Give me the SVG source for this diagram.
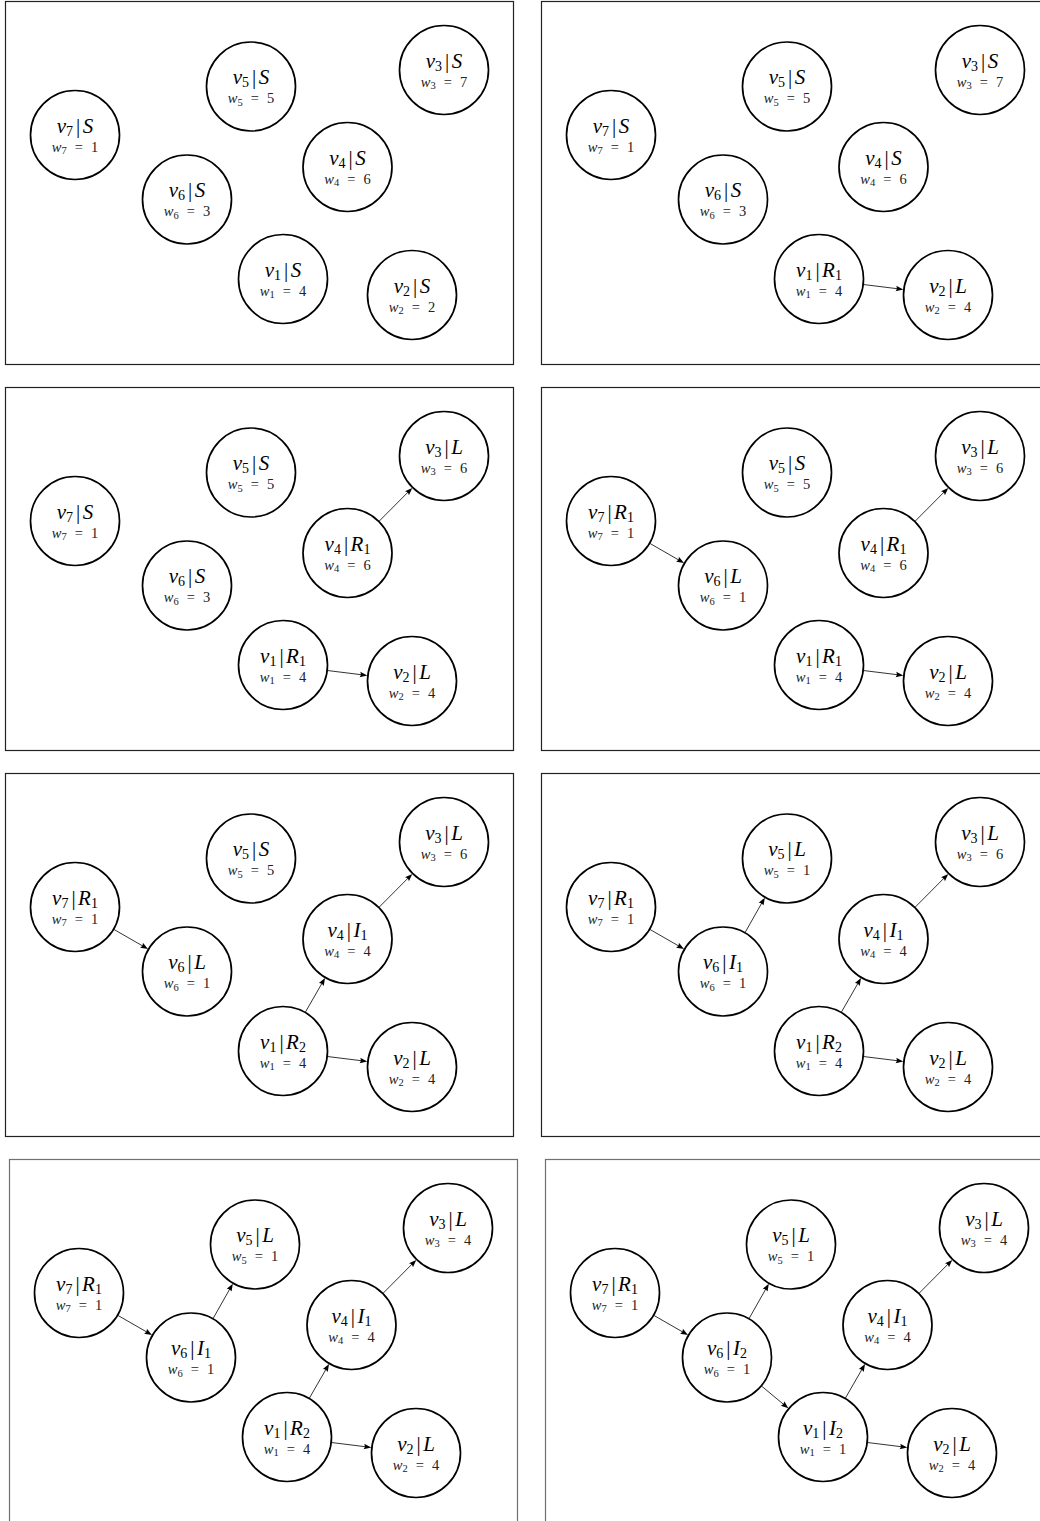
<svg xmlns="http://www.w3.org/2000/svg" width="1040" height="1521" viewBox="0 0 1040 1521">
<style>
.bg{fill:#fff}
.frame{fill:none;stroke:#222;stroke-width:1.2}
.frame4{fill:none;stroke:#707070;stroke-width:1.2}
.node circle{fill:#fff;stroke:#000;stroke-width:1.7}
.a{font-family:"Liberation Serif","Times New Roman",serif;font-size:21px;text-anchor:middle;fill:#000}
.b{font-family:"Liberation Serif","Times New Roman",serif;font-size:14.5px;text-anchor:middle;fill:#222}
.i{font-style:italic}
.s{font-size:14px}
.t{font-size:10.5px}
.edges line{stroke:#000;stroke-width:0.8;marker-end:url(#arr)}
</style>
<defs>
<marker id="arr" markerUnits="userSpaceOnUse" viewBox="-9 -5 12 10" markerWidth="12" markerHeight="10" refX="-3" refY="0" orient="auto">
<path d="M0,0 L-7.5,-2.8 Q-5.6,0 -7.5,2.8 Z" fill="#000"/>
</marker>
</defs>
<rect class="bg" x="0" y="0" width="1040" height="1521"/>

<!-- Panel 1 -->
<g id="panel1" transform="translate(0,0)">
<rect class="frame" x="5.5" y="1.5" width="508" height="363"/>
<g id="p1-edges" class="edges"></g>
<g id="p1-v1" class="node" transform="translate(283,279)"><circle r="44.5"/><text class="a" y="-2.5"><tspan class="i">v</tspan><tspan class="s" dy="3">1</tspan><tspan dy="-3" dx="3">|</tspan><tspan class="i" dx="2.5">S</tspan></text><text class="b" y="16.5"><tspan class="i">w</tspan><tspan class="t" dy="2.5">1</tspan><tspan dy="-2.5" dx="8">=</tspan><tspan dx="8">4</tspan></text></g>
<g id="p1-v2" class="node" transform="translate(412,295)"><circle r="44.5"/><text class="a" y="-2.5"><tspan class="i">v</tspan><tspan class="s" dy="3">2</tspan><tspan dy="-3" dx="3">|</tspan><tspan class="i" dx="2.5">S</tspan></text><text class="b" y="16.5"><tspan class="i">w</tspan><tspan class="t" dy="2.5">2</tspan><tspan dy="-2.5" dx="8">=</tspan><tspan dx="8">2</tspan></text></g>
<g id="p1-v3" class="node" transform="translate(444,70)"><circle r="44.5"/><text class="a" y="-2.5"><tspan class="i">v</tspan><tspan class="s" dy="3">3</tspan><tspan dy="-3" dx="3">|</tspan><tspan class="i" dx="2.5">S</tspan></text><text class="b" y="16.5"><tspan class="i">w</tspan><tspan class="t" dy="2.5">3</tspan><tspan dy="-2.5" dx="8">=</tspan><tspan dx="8">7</tspan></text></g>
<g id="p1-v4" class="node" transform="translate(347.5,167)"><circle r="44.5"/><text class="a" y="-2.5"><tspan class="i">v</tspan><tspan class="s" dy="3">4</tspan><tspan dy="-3" dx="3">|</tspan><tspan class="i" dx="2.5">S</tspan></text><text class="b" y="16.5"><tspan class="i">w</tspan><tspan class="t" dy="2.5">4</tspan><tspan dy="-2.5" dx="8">=</tspan><tspan dx="8">6</tspan></text></g>
<g id="p1-v5" class="node" transform="translate(251,86.5)"><circle r="44.5"/><text class="a" y="-2.5"><tspan class="i">v</tspan><tspan class="s" dy="3">5</tspan><tspan dy="-3" dx="3">|</tspan><tspan class="i" dx="2.5">S</tspan></text><text class="b" y="16.5"><tspan class="i">w</tspan><tspan class="t" dy="2.5">5</tspan><tspan dy="-2.5" dx="8">=</tspan><tspan dx="8">5</tspan></text></g>
<g id="p1-v6" class="node" transform="translate(187,199.5)"><circle r="44.5"/><text class="a" y="-2.5"><tspan class="i">v</tspan><tspan class="s" dy="3">6</tspan><tspan dy="-3" dx="3">|</tspan><tspan class="i" dx="2.5">S</tspan></text><text class="b" y="16.5"><tspan class="i">w</tspan><tspan class="t" dy="2.5">6</tspan><tspan dy="-2.5" dx="8">=</tspan><tspan dx="8">3</tspan></text></g>
<g id="p1-v7" class="node" transform="translate(75,135)"><circle r="44.5"/><text class="a" y="-2.5"><tspan class="i">v</tspan><tspan class="s" dy="3">7</tspan><tspan dy="-3" dx="3">|</tspan><tspan class="i" dx="2.5">S</tspan></text><text class="b" y="16.5"><tspan class="i">w</tspan><tspan class="t" dy="2.5">7</tspan><tspan dy="-2.5" dx="8">=</tspan><tspan dx="8">1</tspan></text></g>
</g>

<!-- Panel 2 -->
<g id="panel2" transform="translate(536,0)">
<rect class="frame" x="5.5" y="1.5" width="508" height="363"/>
<g id="p2-edges" class="edges">
<line x1="327.66" y1="284.54" x2="364.36" y2="289.09"/>
</g>
<g id="p2-v1" class="node" transform="translate(283,279)"><circle r="44.5"/><text class="a" y="-2.5"><tspan class="i">v</tspan><tspan class="s" dy="3">1</tspan><tspan dy="-3" dx="3">|</tspan><tspan class="i" dx="2.5">R</tspan><tspan class="s" dy="3">1</tspan></text><text class="b" y="16.5"><tspan class="i">w</tspan><tspan class="t" dy="2.5">1</tspan><tspan dy="-2.5" dx="8">=</tspan><tspan dx="8">4</tspan></text></g>
<g id="p2-v2" class="node" transform="translate(412,295)"><circle r="44.5"/><text class="a" y="-2.5"><tspan class="i">v</tspan><tspan class="s" dy="3">2</tspan><tspan dy="-3" dx="3">|</tspan><tspan class="i" dx="2.5">L</tspan></text><text class="b" y="16.5"><tspan class="i">w</tspan><tspan class="t" dy="2.5">2</tspan><tspan dy="-2.5" dx="8">=</tspan><tspan dx="8">4</tspan></text></g>
<g id="p2-v3" class="node" transform="translate(444,70)"><circle r="44.5"/><text class="a" y="-2.5"><tspan class="i">v</tspan><tspan class="s" dy="3">3</tspan><tspan dy="-3" dx="3">|</tspan><tspan class="i" dx="2.5">S</tspan></text><text class="b" y="16.5"><tspan class="i">w</tspan><tspan class="t" dy="2.5">3</tspan><tspan dy="-2.5" dx="8">=</tspan><tspan dx="8">7</tspan></text></g>
<g id="p2-v4" class="node" transform="translate(347.5,167)"><circle r="44.5"/><text class="a" y="-2.5"><tspan class="i">v</tspan><tspan class="s" dy="3">4</tspan><tspan dy="-3" dx="3">|</tspan><tspan class="i" dx="2.5">S</tspan></text><text class="b" y="16.5"><tspan class="i">w</tspan><tspan class="t" dy="2.5">4</tspan><tspan dy="-2.5" dx="8">=</tspan><tspan dx="8">6</tspan></text></g>
<g id="p2-v5" class="node" transform="translate(251,86.5)"><circle r="44.5"/><text class="a" y="-2.5"><tspan class="i">v</tspan><tspan class="s" dy="3">5</tspan><tspan dy="-3" dx="3">|</tspan><tspan class="i" dx="2.5">S</tspan></text><text class="b" y="16.5"><tspan class="i">w</tspan><tspan class="t" dy="2.5">5</tspan><tspan dy="-2.5" dx="8">=</tspan><tspan dx="8">5</tspan></text></g>
<g id="p2-v6" class="node" transform="translate(187,199.5)"><circle r="44.5"/><text class="a" y="-2.5"><tspan class="i">v</tspan><tspan class="s" dy="3">6</tspan><tspan dy="-3" dx="3">|</tspan><tspan class="i" dx="2.5">S</tspan></text><text class="b" y="16.5"><tspan class="i">w</tspan><tspan class="t" dy="2.5">6</tspan><tspan dy="-2.5" dx="8">=</tspan><tspan dx="8">3</tspan></text></g>
<g id="p2-v7" class="node" transform="translate(75,135)"><circle r="44.5"/><text class="a" y="-2.5"><tspan class="i">v</tspan><tspan class="s" dy="3">7</tspan><tspan dy="-3" dx="3">|</tspan><tspan class="i" dx="2.5">S</tspan></text><text class="b" y="16.5"><tspan class="i">w</tspan><tspan class="t" dy="2.5">7</tspan><tspan dy="-2.5" dx="8">=</tspan><tspan dx="8">1</tspan></text></g>
</g>

<!-- Panel 3 -->
<g id="panel3" transform="translate(0,386)">
<rect class="frame" x="5.5" y="1.5" width="508" height="363"/>
<g id="p3-edges" class="edges">
<line x1="327.66" y1="284.54" x2="364.36" y2="289.09"/>
<line x1="379.24" y1="135.10" x2="410.14" y2="104.03"/>
</g>
<g id="p3-v1" class="node" transform="translate(283,279)"><circle r="44.5"/><text class="a" y="-2.5"><tspan class="i">v</tspan><tspan class="s" dy="3">1</tspan><tspan dy="-3" dx="3">|</tspan><tspan class="i" dx="2.5">R</tspan><tspan class="s" dy="3">1</tspan></text><text class="b" y="16.5"><tspan class="i">w</tspan><tspan class="t" dy="2.5">1</tspan><tspan dy="-2.5" dx="8">=</tspan><tspan dx="8">4</tspan></text></g>
<g id="p3-v2" class="node" transform="translate(412,295)"><circle r="44.5"/><text class="a" y="-2.5"><tspan class="i">v</tspan><tspan class="s" dy="3">2</tspan><tspan dy="-3" dx="3">|</tspan><tspan class="i" dx="2.5">L</tspan></text><text class="b" y="16.5"><tspan class="i">w</tspan><tspan class="t" dy="2.5">2</tspan><tspan dy="-2.5" dx="8">=</tspan><tspan dx="8">4</tspan></text></g>
<g id="p3-v3" class="node" transform="translate(444,70)"><circle r="44.5"/><text class="a" y="-2.5"><tspan class="i">v</tspan><tspan class="s" dy="3">3</tspan><tspan dy="-3" dx="3">|</tspan><tspan class="i" dx="2.5">L</tspan></text><text class="b" y="16.5"><tspan class="i">w</tspan><tspan class="t" dy="2.5">3</tspan><tspan dy="-2.5" dx="8">=</tspan><tspan dx="8">6</tspan></text></g>
<g id="p3-v4" class="node" transform="translate(347.5,167)"><circle r="44.5"/><text class="a" y="-2.5"><tspan class="i">v</tspan><tspan class="s" dy="3">4</tspan><tspan dy="-3" dx="3">|</tspan><tspan class="i" dx="2.5">R</tspan><tspan class="s" dy="3">1</tspan></text><text class="b" y="16.5"><tspan class="i">w</tspan><tspan class="t" dy="2.5">4</tspan><tspan dy="-2.5" dx="8">=</tspan><tspan dx="8">6</tspan></text></g>
<g id="p3-v5" class="node" transform="translate(251,86.5)"><circle r="44.5"/><text class="a" y="-2.5"><tspan class="i">v</tspan><tspan class="s" dy="3">5</tspan><tspan dy="-3" dx="3">|</tspan><tspan class="i" dx="2.5">S</tspan></text><text class="b" y="16.5"><tspan class="i">w</tspan><tspan class="t" dy="2.5">5</tspan><tspan dy="-2.5" dx="8">=</tspan><tspan dx="8">5</tspan></text></g>
<g id="p3-v6" class="node" transform="translate(187,199.5)"><circle r="44.5"/><text class="a" y="-2.5"><tspan class="i">v</tspan><tspan class="s" dy="3">6</tspan><tspan dy="-3" dx="3">|</tspan><tspan class="i" dx="2.5">S</tspan></text><text class="b" y="16.5"><tspan class="i">w</tspan><tspan class="t" dy="2.5">6</tspan><tspan dy="-2.5" dx="8">=</tspan><tspan dx="8">3</tspan></text></g>
<g id="p3-v7" class="node" transform="translate(75,135)"><circle r="44.5"/><text class="a" y="-2.5"><tspan class="i">v</tspan><tspan class="s" dy="3">7</tspan><tspan dy="-3" dx="3">|</tspan><tspan class="i" dx="2.5">S</tspan></text><text class="b" y="16.5"><tspan class="i">w</tspan><tspan class="t" dy="2.5">7</tspan><tspan dy="-2.5" dx="8">=</tspan><tspan dx="8">1</tspan></text></g>
</g>

<!-- Panel 4 -->
<g id="panel4" transform="translate(536,386)">
<rect class="frame" x="5.5" y="1.5" width="508" height="363"/>
<g id="p4-edges" class="edges">
<line x1="327.66" y1="284.54" x2="364.36" y2="289.09"/>
<line x1="379.24" y1="135.10" x2="410.14" y2="104.03"/>
<line x1="114.0" y1="157.46" x2="145.4" y2="175.54"/>
</g>
<g id="p4-v1" class="node" transform="translate(283,279)"><circle r="44.5"/><text class="a" y="-2.5"><tspan class="i">v</tspan><tspan class="s" dy="3">1</tspan><tspan dy="-3" dx="3">|</tspan><tspan class="i" dx="2.5">R</tspan><tspan class="s" dy="3">1</tspan></text><text class="b" y="16.5"><tspan class="i">w</tspan><tspan class="t" dy="2.5">1</tspan><tspan dy="-2.5" dx="8">=</tspan><tspan dx="8">4</tspan></text></g>
<g id="p4-v2" class="node" transform="translate(412,295)"><circle r="44.5"/><text class="a" y="-2.5"><tspan class="i">v</tspan><tspan class="s" dy="3">2</tspan><tspan dy="-3" dx="3">|</tspan><tspan class="i" dx="2.5">L</tspan></text><text class="b" y="16.5"><tspan class="i">w</tspan><tspan class="t" dy="2.5">2</tspan><tspan dy="-2.5" dx="8">=</tspan><tspan dx="8">4</tspan></text></g>
<g id="p4-v3" class="node" transform="translate(444,70)"><circle r="44.5"/><text class="a" y="-2.5"><tspan class="i">v</tspan><tspan class="s" dy="3">3</tspan><tspan dy="-3" dx="3">|</tspan><tspan class="i" dx="2.5">L</tspan></text><text class="b" y="16.5"><tspan class="i">w</tspan><tspan class="t" dy="2.5">3</tspan><tspan dy="-2.5" dx="8">=</tspan><tspan dx="8">6</tspan></text></g>
<g id="p4-v4" class="node" transform="translate(347.5,167)"><circle r="44.5"/><text class="a" y="-2.5"><tspan class="i">v</tspan><tspan class="s" dy="3">4</tspan><tspan dy="-3" dx="3">|</tspan><tspan class="i" dx="2.5">R</tspan><tspan class="s" dy="3">1</tspan></text><text class="b" y="16.5"><tspan class="i">w</tspan><tspan class="t" dy="2.5">4</tspan><tspan dy="-2.5" dx="8">=</tspan><tspan dx="8">6</tspan></text></g>
<g id="p4-v5" class="node" transform="translate(251,86.5)"><circle r="44.5"/><text class="a" y="-2.5"><tspan class="i">v</tspan><tspan class="s" dy="3">5</tspan><tspan dy="-3" dx="3">|</tspan><tspan class="i" dx="2.5">S</tspan></text><text class="b" y="16.5"><tspan class="i">w</tspan><tspan class="t" dy="2.5">5</tspan><tspan dy="-2.5" dx="8">=</tspan><tspan dx="8">5</tspan></text></g>
<g id="p4-v6" class="node" transform="translate(187,199.5)"><circle r="44.5"/><text class="a" y="-2.5"><tspan class="i">v</tspan><tspan class="s" dy="3">6</tspan><tspan dy="-3" dx="3">|</tspan><tspan class="i" dx="2.5">L</tspan></text><text class="b" y="16.5"><tspan class="i">w</tspan><tspan class="t" dy="2.5">6</tspan><tspan dy="-2.5" dx="8">=</tspan><tspan dx="8">1</tspan></text></g>
<g id="p4-v7" class="node" transform="translate(75,135)"><circle r="44.5"/><text class="a" y="-2.5"><tspan class="i">v</tspan><tspan class="s" dy="3">7</tspan><tspan dy="-3" dx="3">|</tspan><tspan class="i" dx="2.5">R</tspan><tspan class="s" dy="3">1</tspan></text><text class="b" y="16.5"><tspan class="i">w</tspan><tspan class="t" dy="2.5">7</tspan><tspan dy="-2.5" dx="8">=</tspan><tspan dx="8">1</tspan></text></g>
</g>

<!-- Panel 5 -->
<g id="panel5" transform="translate(0,772)">
<rect class="frame" x="5.5" y="1.5" width="508" height="363"/>
<g id="p5-edges" class="edges">
<line x1="327.66" y1="284.54" x2="364.36" y2="289.09"/>
<line x1="379.24" y1="135.10" x2="410.14" y2="104.03"/>
<line x1="114.0" y1="157.46" x2="145.4" y2="175.54"/>
<line x1="305.46" y1="240.0" x2="323.54" y2="208.6"/>
</g>
<g id="p5-v1" class="node" transform="translate(283,279)"><circle r="44.5"/><text class="a" y="-2.5"><tspan class="i">v</tspan><tspan class="s" dy="3">1</tspan><tspan dy="-3" dx="3">|</tspan><tspan class="i" dx="2.5">R</tspan><tspan class="s" dy="3">2</tspan></text><text class="b" y="16.5"><tspan class="i">w</tspan><tspan class="t" dy="2.5">1</tspan><tspan dy="-2.5" dx="8">=</tspan><tspan dx="8">4</tspan></text></g>
<g id="p5-v2" class="node" transform="translate(412,295)"><circle r="44.5"/><text class="a" y="-2.5"><tspan class="i">v</tspan><tspan class="s" dy="3">2</tspan><tspan dy="-3" dx="3">|</tspan><tspan class="i" dx="2.5">L</tspan></text><text class="b" y="16.5"><tspan class="i">w</tspan><tspan class="t" dy="2.5">2</tspan><tspan dy="-2.5" dx="8">=</tspan><tspan dx="8">4</tspan></text></g>
<g id="p5-v3" class="node" transform="translate(444,70)"><circle r="44.5"/><text class="a" y="-2.5"><tspan class="i">v</tspan><tspan class="s" dy="3">3</tspan><tspan dy="-3" dx="3">|</tspan><tspan class="i" dx="2.5">L</tspan></text><text class="b" y="16.5"><tspan class="i">w</tspan><tspan class="t" dy="2.5">3</tspan><tspan dy="-2.5" dx="8">=</tspan><tspan dx="8">6</tspan></text></g>
<g id="p5-v4" class="node" transform="translate(347.5,167)"><circle r="44.5"/><text class="a" y="-2.5"><tspan class="i">v</tspan><tspan class="s" dy="3">4</tspan><tspan dy="-3" dx="3">|</tspan><tspan class="i" dx="2.5">I</tspan><tspan class="s" dy="3">1</tspan></text><text class="b" y="16.5"><tspan class="i">w</tspan><tspan class="t" dy="2.5">4</tspan><tspan dy="-2.5" dx="8">=</tspan><tspan dx="8">4</tspan></text></g>
<g id="p5-v5" class="node" transform="translate(251,86.5)"><circle r="44.5"/><text class="a" y="-2.5"><tspan class="i">v</tspan><tspan class="s" dy="3">5</tspan><tspan dy="-3" dx="3">|</tspan><tspan class="i" dx="2.5">S</tspan></text><text class="b" y="16.5"><tspan class="i">w</tspan><tspan class="t" dy="2.5">5</tspan><tspan dy="-2.5" dx="8">=</tspan><tspan dx="8">5</tspan></text></g>
<g id="p5-v6" class="node" transform="translate(187,199.5)"><circle r="44.5"/><text class="a" y="-2.5"><tspan class="i">v</tspan><tspan class="s" dy="3">6</tspan><tspan dy="-3" dx="3">|</tspan><tspan class="i" dx="2.5">L</tspan></text><text class="b" y="16.5"><tspan class="i">w</tspan><tspan class="t" dy="2.5">6</tspan><tspan dy="-2.5" dx="8">=</tspan><tspan dx="8">1</tspan></text></g>
<g id="p5-v7" class="node" transform="translate(75,135)"><circle r="44.5"/><text class="a" y="-2.5"><tspan class="i">v</tspan><tspan class="s" dy="3">7</tspan><tspan dy="-3" dx="3">|</tspan><tspan class="i" dx="2.5">R</tspan><tspan class="s" dy="3">1</tspan></text><text class="b" y="16.5"><tspan class="i">w</tspan><tspan class="t" dy="2.5">7</tspan><tspan dy="-2.5" dx="8">=</tspan><tspan dx="8">1</tspan></text></g>
</g>

<!-- Panel 6 -->
<g id="panel6" transform="translate(536,772)">
<rect class="frame" x="5.5" y="1.5" width="508" height="363"/>
<g id="p6-edges" class="edges">
<line x1="327.66" y1="284.54" x2="364.36" y2="289.09"/>
<line x1="379.24" y1="135.10" x2="410.14" y2="104.03"/>
<line x1="114.0" y1="157.46" x2="145.4" y2="175.54"/>
<line x1="305.46" y1="240.0" x2="323.54" y2="208.6"/>
<line x1="209.18" y1="160.35" x2="227.34" y2="128.26"/>
</g>
<g id="p6-v1" class="node" transform="translate(283,279)"><circle r="44.5"/><text class="a" y="-2.5"><tspan class="i">v</tspan><tspan class="s" dy="3">1</tspan><tspan dy="-3" dx="3">|</tspan><tspan class="i" dx="2.5">R</tspan><tspan class="s" dy="3">2</tspan></text><text class="b" y="16.5"><tspan class="i">w</tspan><tspan class="t" dy="2.5">1</tspan><tspan dy="-2.5" dx="8">=</tspan><tspan dx="8">4</tspan></text></g>
<g id="p6-v2" class="node" transform="translate(412,295)"><circle r="44.5"/><text class="a" y="-2.5"><tspan class="i">v</tspan><tspan class="s" dy="3">2</tspan><tspan dy="-3" dx="3">|</tspan><tspan class="i" dx="2.5">L</tspan></text><text class="b" y="16.5"><tspan class="i">w</tspan><tspan class="t" dy="2.5">2</tspan><tspan dy="-2.5" dx="8">=</tspan><tspan dx="8">4</tspan></text></g>
<g id="p6-v3" class="node" transform="translate(444,70)"><circle r="44.5"/><text class="a" y="-2.5"><tspan class="i">v</tspan><tspan class="s" dy="3">3</tspan><tspan dy="-3" dx="3">|</tspan><tspan class="i" dx="2.5">L</tspan></text><text class="b" y="16.5"><tspan class="i">w</tspan><tspan class="t" dy="2.5">3</tspan><tspan dy="-2.5" dx="8">=</tspan><tspan dx="8">6</tspan></text></g>
<g id="p6-v4" class="node" transform="translate(347.5,167)"><circle r="44.5"/><text class="a" y="-2.5"><tspan class="i">v</tspan><tspan class="s" dy="3">4</tspan><tspan dy="-3" dx="3">|</tspan><tspan class="i" dx="2.5">I</tspan><tspan class="s" dy="3">1</tspan></text><text class="b" y="16.5"><tspan class="i">w</tspan><tspan class="t" dy="2.5">4</tspan><tspan dy="-2.5" dx="8">=</tspan><tspan dx="8">4</tspan></text></g>
<g id="p6-v5" class="node" transform="translate(251,86.5)"><circle r="44.5"/><text class="a" y="-2.5"><tspan class="i">v</tspan><tspan class="s" dy="3">5</tspan><tspan dy="-3" dx="3">|</tspan><tspan class="i" dx="2.5">L</tspan></text><text class="b" y="16.5"><tspan class="i">w</tspan><tspan class="t" dy="2.5">5</tspan><tspan dy="-2.5" dx="8">=</tspan><tspan dx="8">1</tspan></text></g>
<g id="p6-v6" class="node" transform="translate(187,199.5)"><circle r="44.5"/><text class="a" y="-2.5"><tspan class="i">v</tspan><tspan class="s" dy="3">6</tspan><tspan dy="-3" dx="3">|</tspan><tspan class="i" dx="2.5">I</tspan><tspan class="s" dy="3">1</tspan></text><text class="b" y="16.5"><tspan class="i">w</tspan><tspan class="t" dy="2.5">6</tspan><tspan dy="-2.5" dx="8">=</tspan><tspan dx="8">1</tspan></text></g>
<g id="p6-v7" class="node" transform="translate(75,135)"><circle r="44.5"/><text class="a" y="-2.5"><tspan class="i">v</tspan><tspan class="s" dy="3">7</tspan><tspan dy="-3" dx="3">|</tspan><tspan class="i" dx="2.5">R</tspan><tspan class="s" dy="3">1</tspan></text><text class="b" y="16.5"><tspan class="i">w</tspan><tspan class="t" dy="2.5">7</tspan><tspan dy="-2.5" dx="8">=</tspan><tspan dx="8">1</tspan></text></g>
</g>

<!-- Panel 7 -->
<g id="panel7" transform="translate(4,1158)">
<rect class="frame4" x="5.5" y="1.5" width="508" height="363"/>
<g id="p7-edges" class="edges">
<line x1="327.66" y1="284.54" x2="364.36" y2="289.09"/>
<line x1="379.24" y1="135.10" x2="410.14" y2="104.03"/>
<line x1="114.0" y1="157.46" x2="145.4" y2="175.54"/>
<line x1="305.46" y1="240.0" x2="323.54" y2="208.6"/>
<line x1="209.18" y1="160.35" x2="227.34" y2="128.26"/>
</g>
<g id="p7-v1" class="node" transform="translate(283,279)"><circle r="44.5"/><text class="a" y="-2.5"><tspan class="i">v</tspan><tspan class="s" dy="3">1</tspan><tspan dy="-3" dx="3">|</tspan><tspan class="i" dx="2.5">R</tspan><tspan class="s" dy="3">2</tspan></text><text class="b" y="16.5"><tspan class="i">w</tspan><tspan class="t" dy="2.5">1</tspan><tspan dy="-2.5" dx="8">=</tspan><tspan dx="8">4</tspan></text></g>
<g id="p7-v2" class="node" transform="translate(412,295)"><circle r="44.5"/><text class="a" y="-2.5"><tspan class="i">v</tspan><tspan class="s" dy="3">2</tspan><tspan dy="-3" dx="3">|</tspan><tspan class="i" dx="2.5">L</tspan></text><text class="b" y="16.5"><tspan class="i">w</tspan><tspan class="t" dy="2.5">2</tspan><tspan dy="-2.5" dx="8">=</tspan><tspan dx="8">4</tspan></text></g>
<g id="p7-v3" class="node" transform="translate(444,70)"><circle r="44.5"/><text class="a" y="-2.5"><tspan class="i">v</tspan><tspan class="s" dy="3">3</tspan><tspan dy="-3" dx="3">|</tspan><tspan class="i" dx="2.5">L</tspan></text><text class="b" y="16.5"><tspan class="i">w</tspan><tspan class="t" dy="2.5">3</tspan><tspan dy="-2.5" dx="8">=</tspan><tspan dx="8">4</tspan></text></g>
<g id="p7-v4" class="node" transform="translate(347.5,167)"><circle r="44.5"/><text class="a" y="-2.5"><tspan class="i">v</tspan><tspan class="s" dy="3">4</tspan><tspan dy="-3" dx="3">|</tspan><tspan class="i" dx="2.5">I</tspan><tspan class="s" dy="3">1</tspan></text><text class="b" y="16.5"><tspan class="i">w</tspan><tspan class="t" dy="2.5">4</tspan><tspan dy="-2.5" dx="8">=</tspan><tspan dx="8">4</tspan></text></g>
<g id="p7-v5" class="node" transform="translate(251,86.5)"><circle r="44.5"/><text class="a" y="-2.5"><tspan class="i">v</tspan><tspan class="s" dy="3">5</tspan><tspan dy="-3" dx="3">|</tspan><tspan class="i" dx="2.5">L</tspan></text><text class="b" y="16.5"><tspan class="i">w</tspan><tspan class="t" dy="2.5">5</tspan><tspan dy="-2.5" dx="8">=</tspan><tspan dx="8">1</tspan></text></g>
<g id="p7-v6" class="node" transform="translate(187,199.5)"><circle r="44.5"/><text class="a" y="-2.5"><tspan class="i">v</tspan><tspan class="s" dy="3">6</tspan><tspan dy="-3" dx="3">|</tspan><tspan class="i" dx="2.5">I</tspan><tspan class="s" dy="3">1</tspan></text><text class="b" y="16.5"><tspan class="i">w</tspan><tspan class="t" dy="2.5">6</tspan><tspan dy="-2.5" dx="8">=</tspan><tspan dx="8">1</tspan></text></g>
<g id="p7-v7" class="node" transform="translate(75,135)"><circle r="44.5"/><text class="a" y="-2.5"><tspan class="i">v</tspan><tspan class="s" dy="3">7</tspan><tspan dy="-3" dx="3">|</tspan><tspan class="i" dx="2.5">R</tspan><tspan class="s" dy="3">1</tspan></text><text class="b" y="16.5"><tspan class="i">w</tspan><tspan class="t" dy="2.5">7</tspan><tspan dy="-2.5" dx="8">=</tspan><tspan dx="8">1</tspan></text></g>
</g>

<!-- Panel 8 -->
<g id="panel8" transform="translate(540,1158)">
<rect class="frame4" x="5.5" y="1.5" width="508" height="363"/>
<g id="p8-edges" class="edges">
<line x1="327.66" y1="284.54" x2="364.36" y2="289.09"/>
<line x1="379.24" y1="135.10" x2="410.14" y2="104.03"/>
<line x1="114.0" y1="157.46" x2="145.4" y2="175.54"/>
<line x1="305.46" y1="240.0" x2="323.54" y2="208.6"/>
<line x1="209.18" y1="160.35" x2="227.34" y2="128.26"/>
<line x1="221.66" y1="228.2" x2="246.03" y2="248.39"/>
</g>
<g id="p8-v1" class="node" transform="translate(283,279)"><circle r="44.5"/><text class="a" y="-2.5"><tspan class="i">v</tspan><tspan class="s" dy="3">1</tspan><tspan dy="-3" dx="3">|</tspan><tspan class="i" dx="2.5">I</tspan><tspan class="s" dy="3">2</tspan></text><text class="b" y="16.5"><tspan class="i">w</tspan><tspan class="t" dy="2.5">1</tspan><tspan dy="-2.5" dx="8">=</tspan><tspan dx="8">1</tspan></text></g>
<g id="p8-v2" class="node" transform="translate(412,295)"><circle r="44.5"/><text class="a" y="-2.5"><tspan class="i">v</tspan><tspan class="s" dy="3">2</tspan><tspan dy="-3" dx="3">|</tspan><tspan class="i" dx="2.5">L</tspan></text><text class="b" y="16.5"><tspan class="i">w</tspan><tspan class="t" dy="2.5">2</tspan><tspan dy="-2.5" dx="8">=</tspan><tspan dx="8">4</tspan></text></g>
<g id="p8-v3" class="node" transform="translate(444,70)"><circle r="44.5"/><text class="a" y="-2.5"><tspan class="i">v</tspan><tspan class="s" dy="3">3</tspan><tspan dy="-3" dx="3">|</tspan><tspan class="i" dx="2.5">L</tspan></text><text class="b" y="16.5"><tspan class="i">w</tspan><tspan class="t" dy="2.5">3</tspan><tspan dy="-2.5" dx="8">=</tspan><tspan dx="8">4</tspan></text></g>
<g id="p8-v4" class="node" transform="translate(347.5,167)"><circle r="44.5"/><text class="a" y="-2.5"><tspan class="i">v</tspan><tspan class="s" dy="3">4</tspan><tspan dy="-3" dx="3">|</tspan><tspan class="i" dx="2.5">I</tspan><tspan class="s" dy="3">1</tspan></text><text class="b" y="16.5"><tspan class="i">w</tspan><tspan class="t" dy="2.5">4</tspan><tspan dy="-2.5" dx="8">=</tspan><tspan dx="8">4</tspan></text></g>
<g id="p8-v5" class="node" transform="translate(251,86.5)"><circle r="44.5"/><text class="a" y="-2.5"><tspan class="i">v</tspan><tspan class="s" dy="3">5</tspan><tspan dy="-3" dx="3">|</tspan><tspan class="i" dx="2.5">L</tspan></text><text class="b" y="16.5"><tspan class="i">w</tspan><tspan class="t" dy="2.5">5</tspan><tspan dy="-2.5" dx="8">=</tspan><tspan dx="8">1</tspan></text></g>
<g id="p8-v6" class="node" transform="translate(187,199.5)"><circle r="44.5"/><text class="a" y="-2.5"><tspan class="i">v</tspan><tspan class="s" dy="3">6</tspan><tspan dy="-3" dx="3">|</tspan><tspan class="i" dx="2.5">I</tspan><tspan class="s" dy="3">2</tspan></text><text class="b" y="16.5"><tspan class="i">w</tspan><tspan class="t" dy="2.5">6</tspan><tspan dy="-2.5" dx="8">=</tspan><tspan dx="8">1</tspan></text></g>
<g id="p8-v7" class="node" transform="translate(75,135)"><circle r="44.5"/><text class="a" y="-2.5"><tspan class="i">v</tspan><tspan class="s" dy="3">7</tspan><tspan dy="-3" dx="3">|</tspan><tspan class="i" dx="2.5">R</tspan><tspan class="s" dy="3">1</tspan></text><text class="b" y="16.5"><tspan class="i">w</tspan><tspan class="t" dy="2.5">7</tspan><tspan dy="-2.5" dx="8">=</tspan><tspan dx="8">1</tspan></text></g>
</g>
</svg>
